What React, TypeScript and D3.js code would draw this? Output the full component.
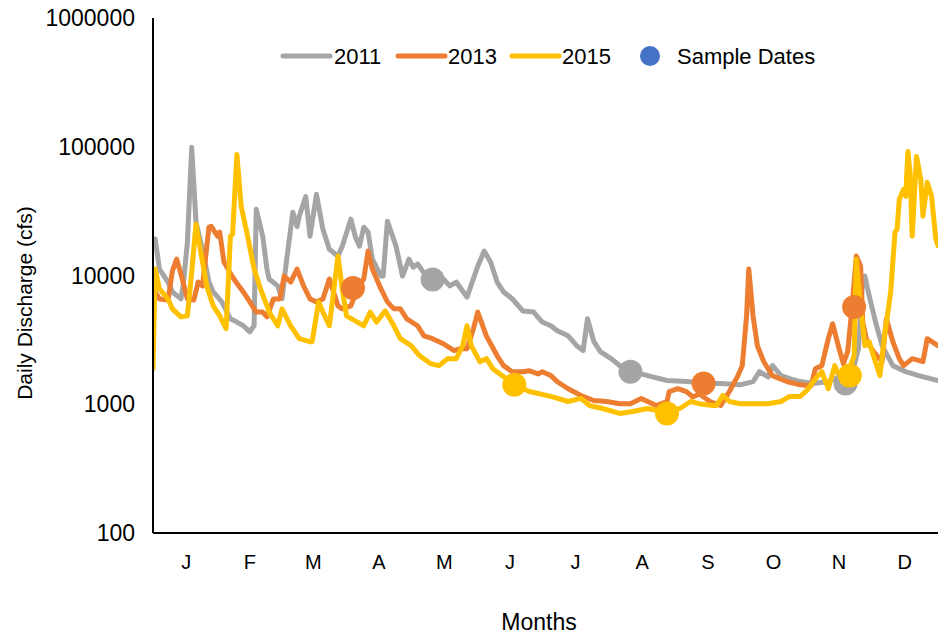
import React from "react";
import * as d3 from "d3";

const W = 938;
const H = 636;

const monthLabels = ["J", "F", "M", "A", "M", "J", "J", "A", "S", "O", "N", "D"];
const monthMidDays = [15.5, 45, 74.5, 105, 135.5, 166, 196.5, 227.5, 258, 288.5, 319, 349.5];
const yTicks = [100, 1000, 10000, 100000, 1000000];

const days2011 = [1, 3, 7, 9, 13, 14, 16, 18, 20, 23, 26, 28, 32, 36, 39, 42, 45, 47, 48, 51, 53, 54, 58, 60, 62, 65, 67, 68, 71, 73, 76, 79, 82, 86, 88, 92, 94, 96, 98, 100, 102, 106, 107, 109, 113, 116, 119, 121, 123, 127, 130, 135, 138, 141, 146, 151, 154, 157, 160, 163, 167, 172, 177, 181, 185, 188, 193, 197, 200, 202, 205, 208, 213, 217, 223, 230, 239, 248, 258, 264, 273, 279, 282, 286, 288, 292, 296, 301, 307, 314, 317, 320, 324, 328, 330, 331, 333, 336, 339, 344, 350, 356, 365];
const flow2011 = [19200, 11200, 8900, 7450, 6580, 8290, 18150, 99000, 25900, 16000, 8900, 7450, 6240, 4610, 4350, 4070, 3650, 4070, 32700, 20200, 11200, 9400, 8300, 6600, 12700, 31000, 24000, 28900, 41000, 20200, 42700, 22900, 16000, 14100, 16900, 27400, 20200, 16900, 23700, 21700, 13400, 9900, 9900, 26400, 16900, 9900, 13400, 11600, 12300, 9900, 9400, 9400, 8300, 8900, 6800, 11800, 15500, 12700, 8900, 7450, 6600, 5300, 5200, 4350, 4070, 3720, 3400, 2850, 2610, 4610, 3060, 2560, 2260, 2000, 1790, 1670, 1530, 1500, 1450, 1450, 1415, 1500, 1790, 1630, 2000, 1670, 1580, 1500, 1450, 1500, 1580, 1320, 1450, 2700, 9400, 9900, 6940, 4350, 2850, 1995, 1790, 1670, 1530];

const days2013 = [0, 3, 7, 9, 11, 13, 16, 19, 21, 23, 26, 27, 30, 31, 33, 37, 39, 42, 45, 48, 51, 53, 56, 59, 61, 64, 67, 70, 73, 76, 79, 82, 86, 88, 92, 95, 98, 100, 102, 106, 109, 112, 115, 118, 123, 126, 130, 135, 140, 143, 146, 149, 151, 155, 160, 163, 167, 172, 175, 179, 181, 185, 188, 193, 199, 205, 211, 217, 222, 227, 230, 234, 239, 240, 244, 248, 251, 254, 259, 264, 268, 272, 274, 276, 277, 279, 281, 284, 288, 295, 301, 306, 308, 311, 314, 316, 319, 321, 323, 325, 327, 329, 330, 332, 335, 339, 341, 344, 347, 349, 353, 358, 360, 365];
const flow2013 = [7870, 6580, 6450, 10830, 13400, 10270, 6580, 6450, 8900, 8290, 23730, 24150, 20210, 21710, 12720, 9730, 8700, 7450, 6240, 5200, 5200, 4770, 6580, 6580, 9910, 8900, 11230, 8290, 6580, 6240, 6580, 9400, 5810, 5510, 5810, 7870, 9400, 15470, 11230, 7870, 6240, 5510, 5510, 4610, 4070, 3400, 3230, 2950, 2610, 2700, 2700, 3860, 5200, 3400, 2380, 1995, 1790, 1790, 1820, 1720, 1790, 1670, 1495, 1320, 1170, 1070, 1050, 1010, 1010, 1110, 1050, 978, 1050, 1255, 1320, 1255, 1140, 1200, 1050, 978, 1255, 1670, 1995, 4860, 11230, 4860, 2850, 2140, 1670, 1495, 1415, 1390, 1890, 1995, 3230, 4220, 2700, 2070, 2560, 5510, 14150, 11850, 4350, 3060, 2560, 2140, 4610, 3060, 2260, 1995, 2260, 2140, 3230, 2850];

const days2015 = [0, 1, 3, 7, 9, 13, 16, 18, 20, 22, 25, 28, 31, 34, 36, 37, 39, 41, 44, 47, 50, 53, 54, 58, 60, 64, 68, 73, 74, 77, 79, 82, 86, 88, 90, 95, 98, 101, 104, 108, 112, 115, 120, 124, 129, 133, 137, 141, 144, 146, 148, 152, 155, 158, 161, 168, 175, 185, 193, 199, 203, 209, 217, 223, 230, 239, 245, 250, 254, 260, 262, 265, 268, 273, 286, 292, 296, 301, 304, 308, 311, 314, 317, 320, 322, 326, 327, 329, 331, 333, 335, 338, 340, 343, 345, 346, 347, 349, 350, 351, 352, 353, 355, 357, 358, 360, 362, 364, 365];
const flow2015 = [1890, 11230, 7870, 6580, 5510, 4770, 4860, 10640, 25030, 16000, 8290, 5810, 4860, 3860, 20210, 20900, 87100, 34500, 20210, 11230, 7870, 5810, 5200, 4070, 5510, 4070, 3230, 3060, 3060, 6240, 5200, 4070, 14150, 7870, 4860, 4350, 4070, 5200, 4350, 5310, 4070, 3230, 2850, 2380, 2070, 1995, 2260, 2260, 2850, 4070, 2850, 2140, 2260, 1890, 1730, 1420, 1255, 1150, 1050, 1110, 978, 927, 848, 879, 927, 860, 927, 1050, 1010, 978, 978, 1170, 1050, 1010, 1010, 1050, 1150, 1150, 1280, 1580, 1790, 1320, 1995, 1495, 1580, 2380, 13400, 5810, 2850, 3060, 2380, 1670, 3230, 7450, 21700, 22900, 39100, 46700, 41200, 91800, 63100, 20200, 84100, 55800, 28900, 52900, 41200, 19200, 17000];

const sampleDays2011 = [130, 222, 322];
const sampleFlow2011 = [9300, 1790, 1450];
const sampleDays2013 = [93, 256, 326];
const sampleFlow2013 = [8000, 1450, 5700];
const sampleDays2015 = [168, 239, 324];
const sampleFlow2015 = [1420, 848, 1670];

const seriesNames = ["2011", "2013", "2015"];
const seriesColors = ["#A5A5A5", "#ED7D31", "#FFC000"];
const sampleLabel = "Sample Dates";
const sampleLegendColor = "#4472C4";

const FONT = "'Liberation Sans', Arial, sans-serif";

export default function App() {
  const left = 153, right = 938, top = 18, bottom = 533;
  const x = d3.scaleLinear().domain([0, 365]).range([left, right]);
  const y = d3.scaleLog().domain([100, 1000000]).range([bottom, top]);

  const series = [
    { days: days2011, flow: flow2011, sd: sampleDays2011, sf: sampleFlow2011 },
    { days: days2013, flow: flow2013, sd: sampleDays2013, sf: sampleFlow2013 },
    { days: days2015, flow: flow2015, sd: sampleDays2015, sf: sampleFlow2015 },
  ];

  const line = d3
    .line<[number, number]>()
    .x((d) => x(d[0]))
    .y((d) => y(d[1]));

  const legendItems = [
    { lx: 283, tx: 334 },
    { lx: 398, tx: 448 },
    { lx: 512, tx: 562 },
  ];

  return (
    <svg
      width={W}
      height={H}
      style={{ position: "absolute", left: 0, top: 0, background: "#fff" }}
      fontFamily={FONT}
    >
      <rect x={0} y={0} width={W} height={H} fill="#fff" />
      <defs>
        <clipPath id="plot">
          <rect x={left} y={0} width={right - left} height={bottom} />
        </clipPath>
      </defs>

      <g clipPath="url(#plot)">
        {series.map((s, i) => (
          <path
            key={i}
            d={line(s.days.map((d, j) => [d, s.flow[j]] as [number, number])) || ""}
            fill="none"
            stroke={seriesColors[i]}
            strokeWidth={5}
            strokeLinejoin="round"
            strokeLinecap="round"
          />
        ))}
        {series.map((s, i) =>
          s.sd.map((d, j) => (
            <circle
              key={`${i}-${j}`}
              cx={x(d)}
              cy={y(s.sf[j])}
              r={12}
              fill={seriesColors[i]}
            />
          ))
        )}
      </g>

      <line x1={left} x2={left} y1={top} y2={bottom} stroke="#000" strokeWidth={2} />
      <line x1={left} x2={right} y1={bottom} y2={bottom} stroke="#000" strokeWidth={2} />

      {yTicks.map((t) => (
        <text
          key={t}
          x={135}
          y={y(t)}
          textAnchor="end"
          dominantBaseline="central"
          fontSize={23}
          fill="#000"
        >
          {t}
        </text>
      ))}

      {monthLabels.map((m, i) => (
        <text
          key={i}
          x={x(monthMidDays[i])}
          y={562}
          textAnchor="middle"
          dominantBaseline="central"
          fontSize={20}
          fill="#000"
        >
          {m}
        </text>
      ))}

      <text x={539} y={622} textAnchor="middle" dominantBaseline="central" fontSize={23} fill="#000">
        Months
      </text>
      <text
        transform={`translate(24,303) rotate(-90)`}
        textAnchor="middle"
        dominantBaseline="central"
        fontSize={21}
        fill="#000"
      >
        Daily Discharge (cfs)
      </text>

      {legendItems.map((it, i) => (
        <g key={i}>
          <line
            x1={it.lx}
            x2={it.lx + 47}
            y1={56}
            y2={56}
            stroke={seriesColors[i]}
            strokeWidth={5}
            strokeLinecap="round"
          />
          <text x={it.tx} y={56} dominantBaseline="central" fontSize={22} fill="#000">
            {seriesNames[i]}
          </text>
        </g>
      ))}
      <circle cx={650} cy={56} r={10} fill={sampleLegendColor} />
      <text x={677} y={56} dominantBaseline="central" fontSize={22} fill="#000">
        {sampleLabel}
      </text>
    </svg>
  );
}
